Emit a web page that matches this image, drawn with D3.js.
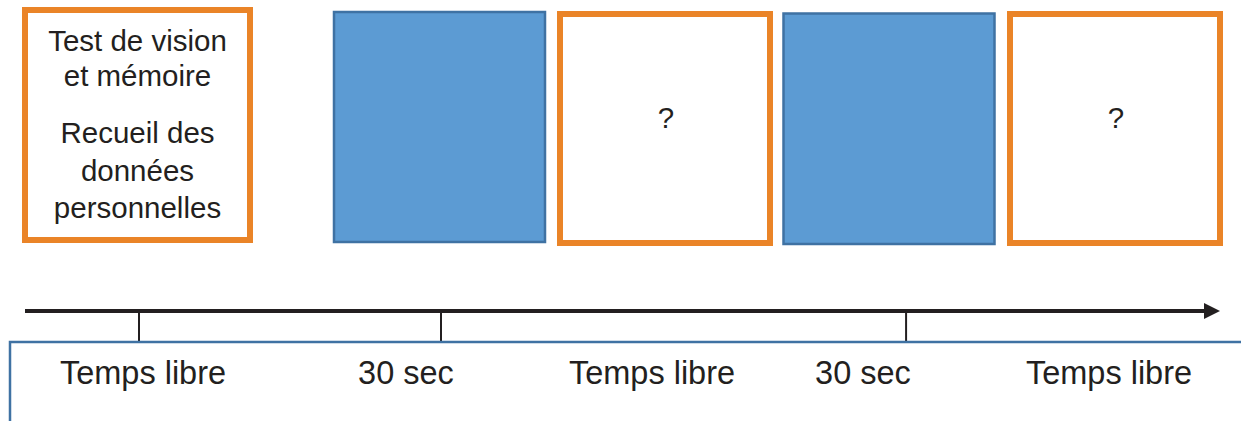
<!DOCTYPE html>
<html>
<head>
<meta charset="utf-8">
<script src="https://cdn.jsdelivr.net/npm/d3@7"></script>
<style>
  html, body { margin: 0; padding: 0; background: #fff; }
  svg { display: block; }
  text { font-family: "Liberation Sans", Arial, sans-serif; fill: #231F20; }
</style>
</head>
<body>
<svg id="chart" width="1241" height="421"></svg>
<script>
// ---- data ----
const steps = ["intro", "pause1", "test1", "pause2", "test2"];
const stepKinds = ["task", "rest", "task", "rest", "task"];
const stepTexts = [
  ["Test de vision", "et mémoire", "", "Recueil des", "données", "personnelles"],
  [],
  ["?"],
  [],
  ["?"]
];
const durationLabels = ["Temps libre", "30 sec", "Temps libre", "30 sec", "Temps libre"];
const tickMarks = [0, 1, 2.54]; // timeline tick positions, in step units

// ---- layout (not data) ----
const W = 1241, H = 421;
const svg = d3.select("#chart");
const xCenter = d3.scaleLinear().domain([0, 1, 2, 3, 4]).range([137.5, 439.5, 665, 889, 1115]);
const boxWidth = d3.scaleOrdinal().domain(["task", "rest"]).range([210, 211]);
const colors = { task: { fill: "#ffffff", stroke: "#EA8428", sw: 6 }, rest: { fill: "#5C9BD3", stroke: "#3F72A3", sw: 2.5 } };
const boxTop = [10, 12, 14, 13.5, 14];
const boxBottom = [240, 242, 243, 244, 243];
const firstBoxWidth = 225;

const g = svg.append("g");
steps.forEach((s, i) => {
  const kind = stepKinds[i];
  const w = i === 0 ? firstBoxWidth : boxWidth(kind);
  const c = xCenter(i);
  const col = colors[kind];
  g.append("rect")
    .attr("x", c - w / 2)
    .attr("y", boxTop[i])
    .attr("width", w)
    .attr("height", boxBottom[i] - boxTop[i])
    .attr("fill", col.fill)
    .attr("stroke", col.stroke)
    .attr("stroke-width", col.sw);
  const lines = stepTexts[i];
  if (lines.length === 1) {
    g.append("text")
      .attr("x", c + 1)
      .attr("y", 128)
      .attr("text-anchor", "middle")
      .attr("font-size", 29.5)
      .text(lines[0]);
  } else if (lines.length > 1) {
    const ys = [51, 86, null, 143, 181, 218];
    lines.forEach((t, k) => {
      if (!t) return;
      g.append("text")
        .attr("x", c)
        .attr("y", ys[k])
        .attr("text-anchor", "middle")
        .attr("font-size", 29.5)
        .text(t);
    });
  }
});

// timeline
const axisY = 311;
const xTime = d3.scaleLinear().domain([0, 1]).range([139, 441]);
svg.append("defs").append("marker")
  .attr("id", "arrow")
  .attr("viewBox", "0 0 10 10")
  .attr("refX", 0).attr("refY", 5)
  .attr("markerWidth", 4.2).attr("markerHeight", 4)
  .attr("markerUnits", "strokeWidth")
  .attr("orient", "auto")
  .append("path").attr("d", "M0,0 L10,5 L0,10 Z").attr("fill", "#231F20");

svg.append("line")
  .attr("x1", 25).attr("x2", 1204)
  .attr("y1", axisY).attr("y2", axisY)
  .attr("stroke", "#231F20").attr("stroke-width", 4)
  .attr("marker-end", "url(#arrow)");

svg.selectAll("line.tick").data(tickMarks).join("line")
  .attr("class", "tick")
  .attr("x1", d => xTime(d)).attr("x2", d => xTime(d))
  .attr("y1", axisY).attr("y2", 342)
  .attr("stroke", "#231F20").attr("stroke-width", 2);

// bottom frame
svg.append("rect")
  .attr("x", 10).attr("y", 342)
  .attr("width", W + 20).attr("height", 100)
  .attr("fill", "none")
  .attr("stroke", "#3F72A3").attr("stroke-width", 2.5);

// duration labels
const labelX = d3.scaleLinear().domain([0, 1, 2, 3, 4]).range([143, 406, 652, 863, 1109]);
svg.selectAll("text.dur").data(durationLabels).join("text")
  .attr("class", "dur")
  .attr("x", (d, i) => labelX(i))
  .attr("y", 384)
  .attr("text-anchor", "middle")
  .attr("font-size", 32.5)
  .text(d => d);
</script>
</body>
</html>
